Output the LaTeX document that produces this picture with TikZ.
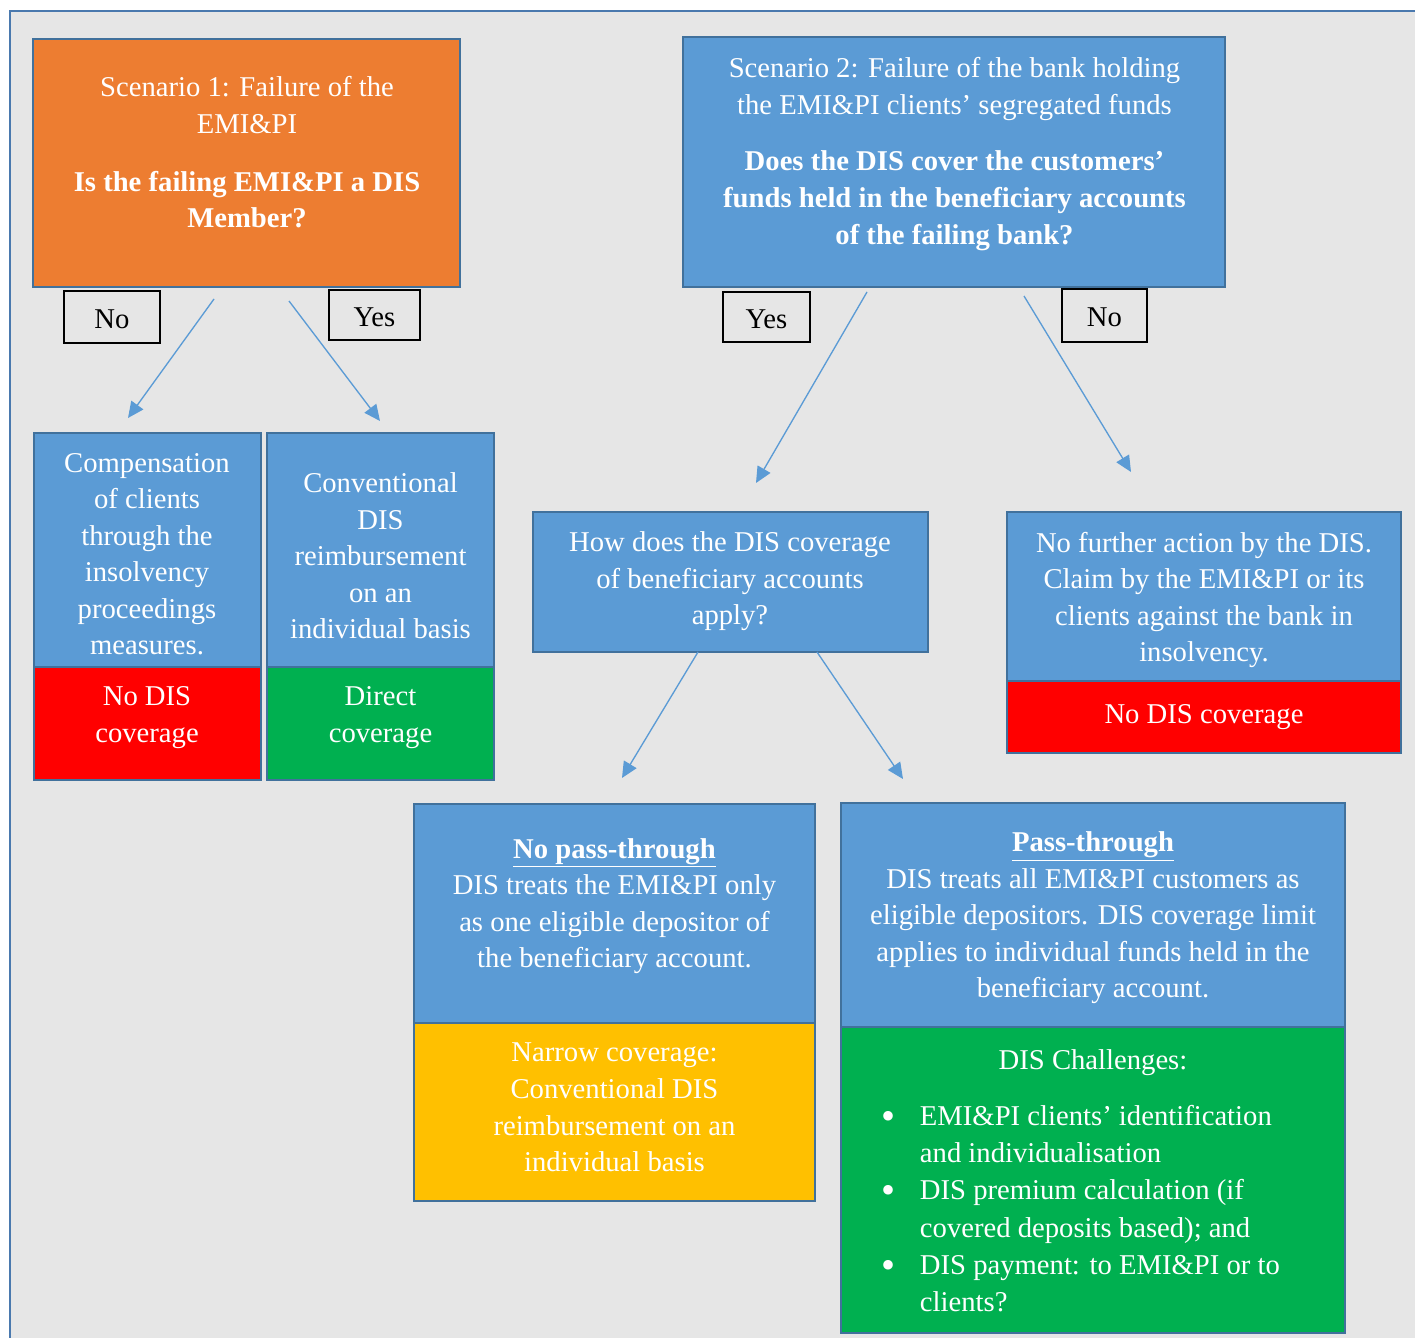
\documentclass[tikz,border=0pt]{standalone}
\usepackage{fontspec}
\setmainfont{Liberation Serif}
\usetikzlibrary{arrows.meta,fit}
\definecolor{bg}{HTML}{E6E6E6}
\definecolor{frameblue}{HTML}{4A79AE}
\definecolor{boxblue}{HTML}{5B9BD5}
\definecolor{boxline}{HTML}{41719C}
\definecolor{orng}{HTML}{ED7D31}
\definecolor{grn}{HTML}{00B050}
\definecolor{yel}{HTML}{FFC000}
\definecolor{redfill}{HTML}{FF0000}
\definecolor{arrblue}{HTML}{5B9BD5}
\newcommand{\mybullet}{\raisebox{-3pt}{\fontsize{30pt}{27.4pt}\selectfont\textbullet}}
\begin{document}
\begin{tikzpicture}[x=0.75pt,y=-0.75pt,
  box/.style={draw=boxline, line width=1.6pt, inner sep=0pt},
  basetxt/.style={text=white, inner sep=0pt,
    font=\fontsize{21.5pt}{27.4pt}\selectfont},
  txt/.style={basetxt, align=center, yshift=-4pt,
    execute at begin node=\strut, execute at end node=\strut},
  lbl/.style={draw=black, line width=1pt, inner sep=0pt},
  lbltxt/.style={text=black, inner sep=0pt, yshift=-1.5pt,
    font=\fontsize{21.5pt}{27.4pt}\selectfont},
  arr/.style={draw=arrblue, line width=1pt, -{Triangle[length=12pt,width=11pt]}}]

\path[fill=white] (0,0) rectangle (1415,1338);
\useasboundingbox (0,0) rectangle (1415,1338);
\node[fit={(10,11) (1440,1360)}, inner sep=0pt, fill=bg, draw=frameblue, line width=2.2pt] (frame) {};

% Scenario 1
\node[box, fill=orng, fit={(33,39) (460,287)}] (s1) {};
\node[txt] (s1t) at (247,152.5) {Scenario 1: Failure of the\\EMI\&PI\\[16pt]
  \textbf{Is the failing EMI\&PI a DIS}\\\textbf{Member?}};
\node[lbl, fit={(64,291) (160,343)}] (no1) {};
\node[lbltxt] (no1t) at (no1.center) {No};
\node[lbl, fit={(329,290) (420,340)}] (yes1) {};
\node[lbltxt] (yes1t) at (yes1.center) {Yes};

% Scenario 1 outcomes
\node[box, fill=boxblue, fit={(34,433) (261,667)}] (comp) {};
\node[txt] (compt) at (147,554) {Compensation\\of clients\\through the\\insolvency\\proceedings\\measures.};
\node[box, fill=redfill, fit={(34,667) (261,780)}] (nodis1) {};
\node[txt] (nodis1t) at (147,714.5) {No DIS\\coverage};

\node[box, fill=boxblue, fit={(267,433) (494,667)}] (conv) {};
\node[txt] (convt) at (380.5,556) {Conventional\\DIS\\reimbursement\\on an\\individual basis};
\node[box, fill=grn, fit={(267,667) (494,780)}] (direct) {};
\node[txt] (directt) at (380.5,714.5) {Direct\\coverage};

% Scenario 2
\node[box, fill=boxblue, fit={(683,37) (1225,287)}] (s2) {};
\node[txt] (s2t) at (954.5,151) {Scenario 2: Failure of the bank holding\\the EMI\&PI clients’ segregated funds\\[15pt]
  \textbf{Does the DIS cover the customers’}\\\textbf{funds held in the beneficiary accounts}\\\textbf{of the failing bank?}};
\node[lbl, fit={(723,292) (810,342)}] (yes2) {};
\node[lbltxt] (yes2t) at (yes2.center) {Yes};
\node[lbl, fit={(1062,289) (1147,342)}] (no2) {};
\node[lbltxt] (no2t) at (no2.center) {No};

\node[box, fill=boxblue, fit={(533,512) (928,652)}] (how) {};
\node[txt] (howt) at (730,578.5) {How does the DIS coverage\\of beneficiary accounts\\apply?};

\node[box, fill=boxblue, fit={(1007,512) (1401,681)}] (nofur) {};
\node[txt] (nofurt) at (1204,597) {No further action by the DIS.\\Claim by the EMI\&PI or its\\clients against the bank in\\insolvency.};
\node[box, fill=redfill, fit={(1007,681) (1401,753)}] (nodis2) {};
\node[txt] (nodis2t) at (1204,711) {No DIS coverage};

% No pass-through
\node[box, fill=boxblue, fit={(414,804) (815,1023)}] (npt) {};
\node[txt] (nptt) at (614.5,903) {\textbf{\underline{No pass-through}}\\DIS treats the EMI\&PI only\\as one eligible depositor of\\the beneficiary account.};
\node[box, fill=yel, fit={(414,1023) (815,1201)}] (narrow) {};
\node[txt] (narrowt) at (614.5,1107.5) {Narrow coverage:\\Conventional DIS\\reimbursement on an\\individual basis};

% Pass-through
\node[box, fill=boxblue, fit={(841,803) (1345,1027)}] (pt) {};
\node[txt] (ptt) at (1093,915) {\textbf{\underline{Pass-through}}\\DIS treats all EMI\&PI customers as\\eligible depositors. DIS coverage limit\\applies to individual funds held in the\\beneficiary account.};
\node[box, fill=grn, fit={(841,1027) (1345,1333)}] (chal) {};
\node[txt] (chalt) at (1093,1057) {DIS Challenges:};
\node[basetxt, align=left, anchor=west] (bul) at (881,1211) {%
  \renewcommand{\arraystretch}{1.022}%
  \begin{tabular}{@{}p{29pt}@{}l@{}}
  \mybullet & EMI\&PI clients’ identification\\
   & and individualisation\\
  \mybullet & DIS premium calculation (if\\
   & covered deposits based); and\\
  \mybullet & DIS payment: to EMI\&PI or to\\
   & clients?
  \end{tabular}};

% connectors
\coordinate (a1s) at (214,299); \coordinate (a1e) at (128,418);
\coordinate (a2s) at (289,301); \coordinate (a2e) at (380,421);
\coordinate (a3s) at (867,292); \coordinate (a3e) at (756,483);
\coordinate (a4s) at (1024,296); \coordinate (a4e) at (1131,472);
\coordinate (a5s) at (698,652); \coordinate (a5e) at (622,778);
\coordinate (a6s) at (817,652); \coordinate (a6e) at (903,779);
\draw[arr] (a1s) -- (a1e);
\draw[arr] (a2s) -- (a2e);
\draw[arr] (a3s) -- (a3e);
\draw[arr] (a4s) -- (a4e);
\draw[arr] (a5s) -- (a5e);
\draw[arr] (a6s) -- (a6e);
\end{tikzpicture}
\end{document}
